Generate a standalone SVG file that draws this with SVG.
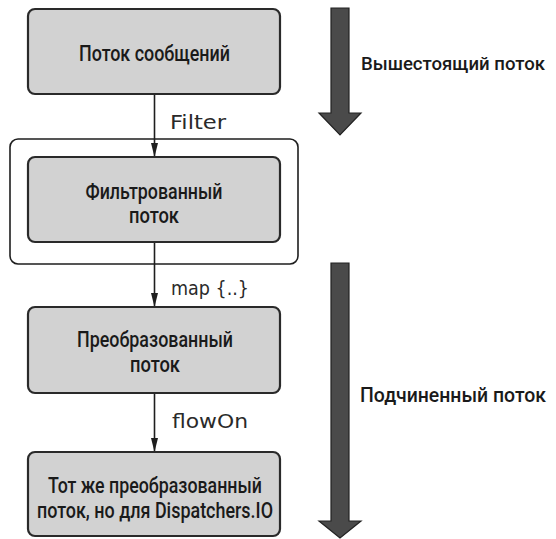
<svg xmlns="http://www.w3.org/2000/svg" width="556" height="539" viewBox="0 0 556 539">
<style>
.box{fill:#d2d2d2;stroke:#2a2a2a;stroke-width:2.2}
.frame{fill:#ffffff;stroke:#1e1e1e;stroke-width:1.6}
.bt{font-family:Roboto,"Liberation Sans",sans-serif;font-weight:500;font-size:22px;fill:#1a1a1a;text-anchor:middle}
.lbl{font-family:"DejaVu Sans",sans-serif;font-size:20px;fill:#2a2a2a}
.side{font-family:Roboto,"Liberation Sans",sans-serif;font-weight:500;font-size:20px;fill:#1a1a1a}
.con{stroke:#1e1e1e;stroke-width:1.6;fill:none}
.big{fill:#4a4a4a;stroke:#222;stroke-width:1.2}
</style>
<defs>
<marker id="ah2" viewBox="0 0 14 8" refX="14" refY="4" markerWidth="14" markerHeight="8" markerUnits="userSpaceOnUse" orient="auto">
<path d="M0,0.5 L14,4 L0,7.5 Z" fill="#1e1e1e"/>
</marker>
</defs>
<rect class="frame" x="10" y="139" width="288" height="125" rx="8"/>
<g id="connectors">
<line class="con" x1="154.5" y1="94" x2="154.5" y2="157" marker-end="url(#ah2)"/>
<line class="con" x1="154.5" y1="242" x2="154.5" y2="307" marker-end="url(#ah2)"/>
<line class="con" x1="154.5" y1="393" x2="154.5" y2="452" marker-end="url(#ah2)"/>
<text class="lbl" x="170" y="129" textLength="56" lengthAdjust="spacingAndGlyphs">Filter</text>
<text class="lbl" x="171" y="295" textLength="78" lengthAdjust="spacingAndGlyphs">map {..}</text>
<text class="lbl" x="172" y="428" textLength="76" lengthAdjust="spacingAndGlyphs">flowOn</text>
</g>
<g id="node1">
<rect class="box" x="28" y="9" width="252" height="85" rx="7"/>
<text class="bt" x="154.5" y="61" textLength="151" lengthAdjust="spacingAndGlyphs">Поток сообщений</text>
</g>
<g id="node2">
<rect class="box" x="28" y="157" width="252" height="85" rx="7"/>
<text class="bt" x="154" y="199" textLength="137" lengthAdjust="spacingAndGlyphs">Фильтрованный</text>
<text class="bt" x="154" y="223" textLength="50" lengthAdjust="spacingAndGlyphs">поток</text>
</g>
<g id="node3">
<rect class="box" x="28" y="307" width="252" height="86" rx="7"/>
<text class="bt" x="155" y="347" textLength="156" lengthAdjust="spacingAndGlyphs">Преобразованный</text>
<text class="bt" x="155" y="372" textLength="50" lengthAdjust="spacingAndGlyphs">поток</text>
</g>
<g id="node4">
<rect class="box" x="28" y="452" width="252" height="84" rx="7"/>
<text class="bt" x="155" y="493" textLength="214" lengthAdjust="spacingAndGlyphs">Тот же преобразованный</text>
<text class="bt" x="155" y="518" textLength="236" lengthAdjust="spacingAndGlyphs">поток, но для Dispatchers.IO</text>
</g>
<g id="upstream">
<path class="big" d="M331,8 L349,8 L349,113 L361,113 L340,135 L319,113 L331,113 Z"/>
<text class="side" x="361" y="70" textLength="184" lengthAdjust="spacingAndGlyphs" style="font-size:19px">Вышестоящий поток</text>
</g>
<g id="downstream">
<path class="big" d="M331,263 L349,263 L349,521 L361,521 L340,538 L319,521 L331,521 Z"/>
<text class="side" x="360" y="402" textLength="186" lengthAdjust="spacingAndGlyphs">Подчиненный поток</text>
</g>
</svg>
